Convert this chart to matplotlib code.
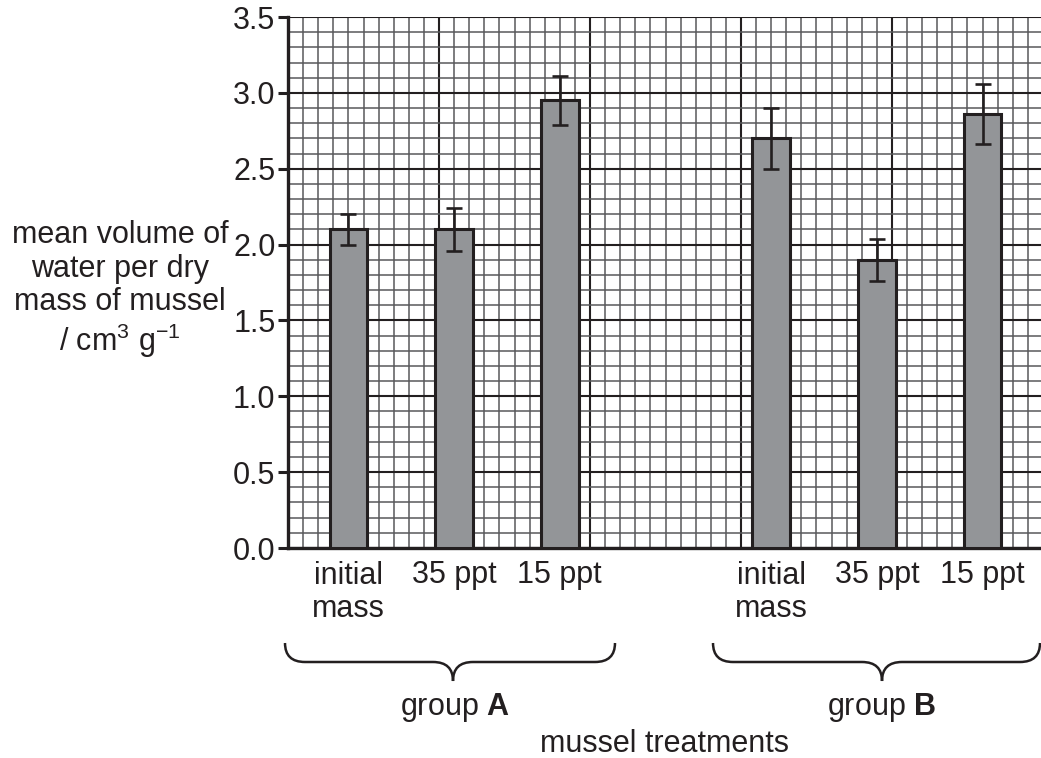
"""Mean volume of water per dry mass of mussel, two groups, grid paper style"""

import numpy as np
import matplotlib.pyplot as plt
from matplotlib.path import Path
from matplotlib.patches import PathPatch

plt.rcParams['font.family'] = ['Liberation Sans', 'DejaVu Sans']
plt.rcParams['mathtext.fontset'] = 'custom'
plt.rcParams['mathtext.rm'] = 'Liberation Sans'
plt.rcParams['mathtext.it'] = 'Liberation Sans:italic'
plt.rcParams['mathtext.bf'] = 'Liberation Sans:bold'

# data
groups = ['A', 'B']
treatments = ['initial\nmass', '35 ppt', '15 ppt']
means_A = [2.10, 2.10, 2.95]
errs_A = [0.10, 0.14, 0.16]
means_B = [2.70, 1.90, 2.86]
errs_B = [0.20, 0.14, 0.20]

ink = '#231f20'
barcol = '#939598'
fs = 22

W, H = 1041, 758
fig = plt.figure(figsize=(W/100, H/100), dpi=100)

# axes box in pixels: left 288, right 1041, top 17, bottom 548
ax = fig.add_axes([288/W, (H-548)/H, (W-288)/W, 531/H])

# bar positions in minor grid units: 7 apart inside group, gap between groups
pos_A = 4 + 7*np.arange(3)
pos_B = 32 + 7*np.arange(3)

for pos, m, e in [(pos_A, means_A, errs_A), (pos_B, means_B, errs_B)]:
    ax.bar(pos, m, width=2.5, color=barcol, edgecolor=ink, linewidth=2.2, zorder=3)
    ax.errorbar(pos, m, yerr=e, fmt='none', ecolor=ink, elinewidth=1.9,
                capsize=6, capthick=1.9, zorder=4)

ax.set_xlim(0, 753/15.1)
ax.set_ylim(0, 3.5)

# graph paper grid
ax.set_xticks(np.arange(0, 50, 10), minor=False)
ax.set_xticks(np.arange(0, 50, 1), minor=True)
ax.set_yticks(np.arange(0, 3.51, 0.5))
ax.set_yticks(np.arange(0, 3.51, 0.1), minor=True)
ax.grid(which='minor', color='#58595b', linewidth=1.1)
ax.grid(which='major', color=ink, linewidth=1.5)
ax.set_axisbelow(True)

ax.set_yticklabels(['%.1f' % v for v in np.arange(0, 3.51, 0.5)], fontsize=fs, color=ink)
ax.tick_params(axis='y', which='major', length=7, width=2.2, color=ink, pad=2)
ax.tick_params(axis='y', which='minor', length=0)
ax.tick_params(axis='x', which='both', length=0, labelbottom=False)

# treatment labels under each bar
for p, lab in zip(np.concatenate([pos_A, pos_B]), treatments*2):
    ax.annotate(lab, xy=(p, 0), xycoords=('data', 'axes fraction'),
                xytext=(0, -9), textcoords='offset points', ha='center', va='top',
                fontsize=fs, color=ink, linespacing=1.15)

for s in ['top', 'right']:
    ax.spines[s].set_visible(False)
for s in ['left', 'bottom']:
    ax.spines[s].set_linewidth(2.4)
    ax.spines[s].set_color(ink)

# overlay in pixel coordinates for braces and labels
ov = fig.add_axes([0, 0, 1, 1], zorder=5)
ov.set_xlim(0, W)
ov.set_ylim(H, 0)
ov.axis('off')


def brace(x0, x1, xc, ytop=643, ymid=662, ytip=681, r=20):
    verts = [(x0, ytop), (x0, ymid), (x0 + r, ymid), (xc - r, ymid),
             (xc, ymid), (xc, ytip), (xc, ymid), (xc + r, ymid),
             (x1 - r, ymid), (x1, ymid), (x1, ytop)]
    codes = [Path.MOVETO, Path.CURVE3, Path.CURVE3, Path.LINETO,
             Path.CURVE3, Path.CURVE3, Path.CURVE3, Path.CURVE3,
             Path.LINETO, Path.CURVE3, Path.CURVE3]
    ov.add_patch(PathPatch(Path(verts, codes), fill=False, edgecolor=ink, lw=1.8))


brace(285, 615, 453)
brace(713, 1040, 882)

ov.text(455, 707, r'group $\mathbf{%s}$' % groups[0], ha='center', va='center',
        fontsize=fs, color=ink)
ov.text(882, 707, r'group $\mathbf{%s}$' % groups[1], ha='center', va='center',
        fontsize=fs, color=ink)
ov.text(665, 744, 'mussel treatments', ha='center', va='center', fontsize=fs, color=ink)

ov.text(120, 290, 'mean volume of\nwater per dry\nmass of mussel\n/ cm$^3$ g$^{-1}$',
        ha='center', va='center', fontsize=fs, color=ink, linespacing=1.15)

plt.savefig('out.png', dpi=100)
